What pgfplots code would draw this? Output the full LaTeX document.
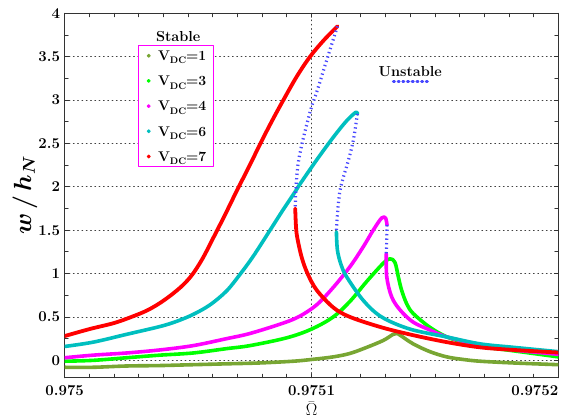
\documentclass[border=0pt]{standalone}
\usepackage{fontspec}
\usepackage{pgfplots}
\pgfplotsset{compat=1.18}
\usepackage{bm}
\definecolor{cOlive}{rgb}{0.47,0.65,0.20}
\definecolor{cGreen}{rgb}{0,1,0}
\definecolor{cMag}{rgb}{1,0,1}
\definecolor{cCyan}{rgb}{0,0.75,0.75}
\definecolor{cRed}{rgb}{1,0,0}
\definecolor{cBlue}{rgb}{0.28,0.28,1}
\newcommand{\vdc}[1]{\hspace*{7.4bp}{\fontsize{14bp}{16bp}\selectfont\bfseries V\raisebox{-3.4bp}{\fontsize{9.5bp}{9.5bp}\selectfont DC}=#1}}
\begin{document}
% x data are given as (Omega - 0.975) * 1e5
\begin{tikzpicture}
\useasboundingbox (-64.7bp,-40.3bp) rectangle (498.3bp,377.7bp);
\begin{axis}[
  scale only axis, width=493.6bp, height=364.4bp,
  xmin=0, xmax=20, ymin=-0.2, ymax=4,
  xtick={0,10,20},
  xticklabels={0.975,0.9751,\makebox[0pt][r]{0.9752}},
  minor x tick num=9,
  ytick={0,0.5,1,1.5,2,2.5,3,3.5,4},
  yticklabels={0,0.5,1,1.5,2,2.5,3,3.5,4},
  minor y tick num=1,
  major tick length=4bp, minor tick length=3.5bp,
  tick style={black!80, line width=0.8bp},
  axis line style={black!80, line width=1.1bp},
  grid=major,
  major grid style={black!75, line width=0.8bp, dash pattern=on 0.9bp off 3.4bp},
  ticklabel style={font=\fontsize{15bp}{18bp}\selectfont\bfseries},
  xticklabel style={inner sep=0bp, anchor=north, yshift=-7bp},
  yticklabel style={inner sep=0bp, anchor=east, xshift=-4.5bp},
  xlabel={$\bar{\Omega}$},
  xlabel style={at={(axis description cs:0.5,0)}, anchor=north, inner sep=0bp, yshift=-24bp, font=\fontsize{17bp}{19bp}\selectfont},
  ylabel={$\bm{w\,/\,h_{N}}$},
  ylabel style={at={(axis description cs:-0.0804,0.501)}, anchor=center, font=\fontsize{24bp}{27bp}\selectfont},
  legend style={at={(0.1491,0.9130)}, anchor=north west, draw=cMag, line width=0.9bp,
    inner xsep=8bp, inner ysep=2.5bp, row sep=9.7bp,
    nodes={inner sep=0bp, text height=12.5bp, text depth=3bp},
    /tikz/column 2/.style={text width=55bp, align=left}},
  legend cell align=left,
  line join=round, line cap=round,
  every axis plot/.append style={smooth, tension=0.55},
]
% ---------- stable branches ----------
\addplot[cOlive, line width=3.6bp, forget plot] table {
0 -0.08
1.16 -0.08
2.51 -0.065
3.86 -0.06
5.21 -0.05
6.56 -0.04
7.91 -0.03
9.26 -0.01
10.0 0.01
10.88 0.04
11.56 0.08
12.24 0.15
12.91 0.23
13.31 0.30
13.46 0.31
13.59 0.29
14.12 0.19
14.80 0.10
15.48 0.04
16.15 0.01
16.83 -0.01
18.18 -0.03
20 -0.05
};
\addplot[cGreen, line width=3.6bp, forget plot] table {
0 -0.01
1.16 0.0
2.51 0.03
3.86 0.06
5.21 0.085
6.56 0.135
7.51 0.17
9.0 0.26
10.0 0.36
10.88 0.50
11.56 0.68
12.24 0.91
12.91 1.12
13.18 1.17
13.38 1.13
13.52 0.96
13.65 0.81
13.86 0.65
14.12 0.54
14.80 0.38
15.48 0.27
16.15 0.21
16.83 0.16
18.18 0.11
20 0.04
};
\addplot[cMag, line width=3.6bp, forget plot] table {
0 0.03
1.16 0.06
2.51 0.085
3.86 0.12
5.21 0.17
6.56 0.25
7.51 0.31
8.86 0.43
9.53 0.51
10.21 0.64
10.88 0.84
11.56 1.08
12.10 1.31
12.50 1.50
12.84 1.64
13.00 1.64
13.06 1.56
};
\addplot[cMag, line width=3.6bp, forget plot] table {
13.03 1.23
13.05 0.96
13.25 0.73
13.59 0.58
14.12 0.44
14.80 0.35
15.48 0.27
16.83 0.18
18.18 0.12
20 0.07
};
\addplot[cCyan, line width=3.6bp, forget plot] table {
0 0.16
1.16 0.21
2.51 0.30
3.86 0.39
4.54 0.45
5.21 0.53
5.89 0.64
6.56 0.80
7.10 0.99
7.64 1.20
8.32 1.50
8.86 1.74
9.33 1.94
9.53 2.03
10.21 2.31
10.88 2.57
11.42 2.76
11.80 2.86
11.86 2.84
};
\addplot[cCyan, line width=3.6bp, forget plot] table {
11.01 1.48
11.05 1.27
11.20 1.10
11.43 0.96
12.10 0.69
12.84 0.50
13.99 0.36
15.48 0.27
16.83 0.19
18.18 0.15
20 0.10
};
\addplot[cRed, line width=3.8bp, forget plot] table {
0 0.28
1.0 0.36
2.0 0.43
2.7 0.50
3.3 0.57
3.8 0.65
4.3 0.75
4.8 0.87
5.2 1.00
5.6 1.18
6.0 1.40
6.5 1.68
7.0 1.97
7.5 2.25
7.93 2.50
8.4 2.76
8.86 3.00
9.4 3.27
9.94 3.50
10.5 3.69
11.05 3.85
};
\addplot[cRed, line width=3.8bp, forget plot] table {
9.34 1.75
9.37 1.55
9.42 1.42
9.60 1.19
9.84 1.00
10.21 0.81
10.88 0.61
11.56 0.50
12.84 0.38
14.12 0.29
15.48 0.21
16.83 0.15
18.18 0.12
20 0.09
};
% ---------- unstable branches ----------
\addplot[cBlue, line width=3.2bp, line cap=butt, dash pattern=on 1.3bp off 3.2bp, forget plot] table {
11.05 3.85
10.55 3.40
10.22 3.10
10.01 2.93
9.81 2.72
9.61 2.49
9.45 2.25
9.37 1.98
9.34 1.75
};
\addplot[cBlue, line width=3.2bp, line cap=butt, dash pattern=on 1.3bp off 3.2bp, forget plot] table {
11.86 2.84
11.69 2.53
11.49 2.30
11.29 2.11
11.15 1.95
11.07 1.75
11.01 1.50
};
\addplot[cBlue, line width=3.2bp, line cap=butt, dash pattern=on 1.3bp off 3.2bp, sharp plot, forget plot] table {
13.06 1.56
13.05 1.40
13.03 1.23
};
% ---------- legend ----------
\addlegendimage{cOlive, legend image code/.code={\fill (0bp,0bp) circle (1.5bp);}}
\addlegendentry{\vdc{1}}
\addlegendimage{cGreen, legend image code/.code={\fill (0bp,0bp) circle (1.5bp);}}
\addlegendentry{\vdc{3}}
\addlegendimage{cMag, legend image code/.code={\fill (0bp,0bp) circle (1.5bp);}}
\addlegendentry{\vdc{4}}
\addlegendimage{cCyan, legend image code/.code={\fill (0bp,0bp) circle (1.5bp);}}
\addlegendentry{\vdc{6}}
\addlegendimage{cRed, legend image code/.code={\fill (0bp,0bp) circle (1.5bp);}}
\addlegendentry{\vdc{7}}
\node[font=\fontsize{14.5bp}{17bp}\selectfont\bfseries] at (rel axis cs:0.230,0.936) {Stable};
\node[font=\fontsize{14.5bp}{17bp}\selectfont\bfseries] at (rel axis cs:0.700,0.840) {Unstable};
\draw[cBlue, line width=2.7bp, dash pattern=on 1.3bp off 3.4bp] (rel axis cs:0.6657,0.8123) -- (rel axis cs:0.7415,0.8123);
\end{axis}
\end{tikzpicture}
\end{document}
